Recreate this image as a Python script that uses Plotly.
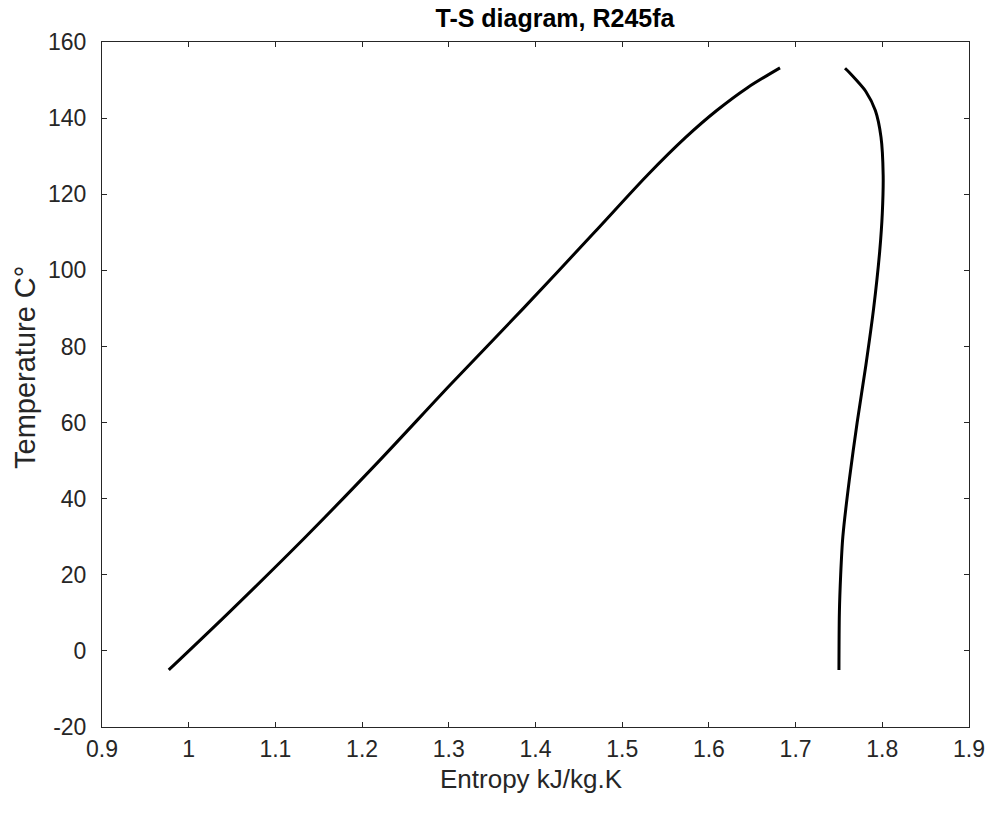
import plotly.graph_objects as go

# Saturated liquid line (temperature in C, entropy in kJ/kg.K)
liq_T = [-5.0, 10.0, 30.0, 50.0, 70.0, 90.0, 110.0, 125.0, 135.0, 142.0, 148.0, 153.2]
liq_s = [0.977, 1.046, 1.135, 1.220, 1.302, 1.386, 1.468, 1.529, 1.5735, 1.609, 1.6445, 1.682]

# Saturated vapour line
vap_T = [-5.0, 10.0, 20.0, 30.0, 45.0, 60.0, 75.0, 90.0, 105.0, 115.0, 125.0, 135.0, 142.0, 147.0, 150.0, 152.0, 153.1]
vap_s = [1.750, 1.7505, 1.752, 1.7545, 1.762, 1.771, 1.781, 1.790, 1.797, 1.800, 1.801, 1.7985, 1.792, 1.781, 1.770, 1.762, 1.757]

x_ticks = [0.9, 1.0, 1.1, 1.2, 1.3, 1.4, 1.5, 1.6, 1.7, 1.8, 1.9]
y_ticks = [-20, 0, 20, 40, 60, 80, 100, 120, 140, 160]

FONT = "Liberation Sans, Arial, sans-serif"
INK = "#262626"
W, H = 990, 814

fig = go.Figure()
fig.add_trace(go.Scatter(x=liq_s, y=liq_T, mode="lines",
                         line=dict(color="black", width=3, shape="spline", smoothing=0.8),
                         showlegend=False))
fig.add_trace(go.Scatter(x=vap_s, y=vap_T, mode="lines",
                         line=dict(color="black", width=3, shape="spline", smoothing=0.8),
                         showlegend=False))

axis_common = dict(showline=True, linecolor=INK, linewidth=1, mirror="ticks", ticks="inside",
                   ticklen=5, tickwidth=1, tickcolor=INK, showgrid=False, zeroline=False,
                   automargin=False,
                   tickfont=dict(family=FONT, size=23, color=INK))

fig.update_layout(
    width=W, height=H,
    paper_bgcolor="white", plot_bgcolor="white",
    margin=dict(l=102, r=21, t=42, b=87),
    title=dict(text="<b>T-S diagram, R245fa</b>", x=555 / W, xanchor="center",
               y=1 - 18 / H, yanchor="middle", font=dict(family=FONT, size=25, color="black")),
    xaxis=dict(range=[0.9, 1.9], tickvals=x_ticks, ticktext=[f"{v:g}" for v in x_ticks],
               ticklabelstandoff=1, **axis_common),
    yaxis=dict(range=[-20, 160], tickvals=y_ticks, ticktext=[str(v) for v in y_ticks],
               ticklabelstandoff=10, **axis_common),
    annotations=[
        dict(text="Entropy kJ/kg.K", xref="paper", yref="paper",
             x=(531 - 102) / (969 - 102), y=-(779 - 727) / (727 - 42),
             xanchor="center", yanchor="middle", showarrow=False,
             font=dict(family=FONT, size=26, color=INK)),
        dict(text="Temperature C°", xref="paper", yref="paper", textangle=-90,
             x=-(102 - 25) / (969 - 102), y=(727 - 368) / (727 - 42),
             xanchor="center", yanchor="middle", showarrow=False,
             font=dict(family=FONT, size=29, color=INK)),
    ],
)

fig.write_html("out.html")
